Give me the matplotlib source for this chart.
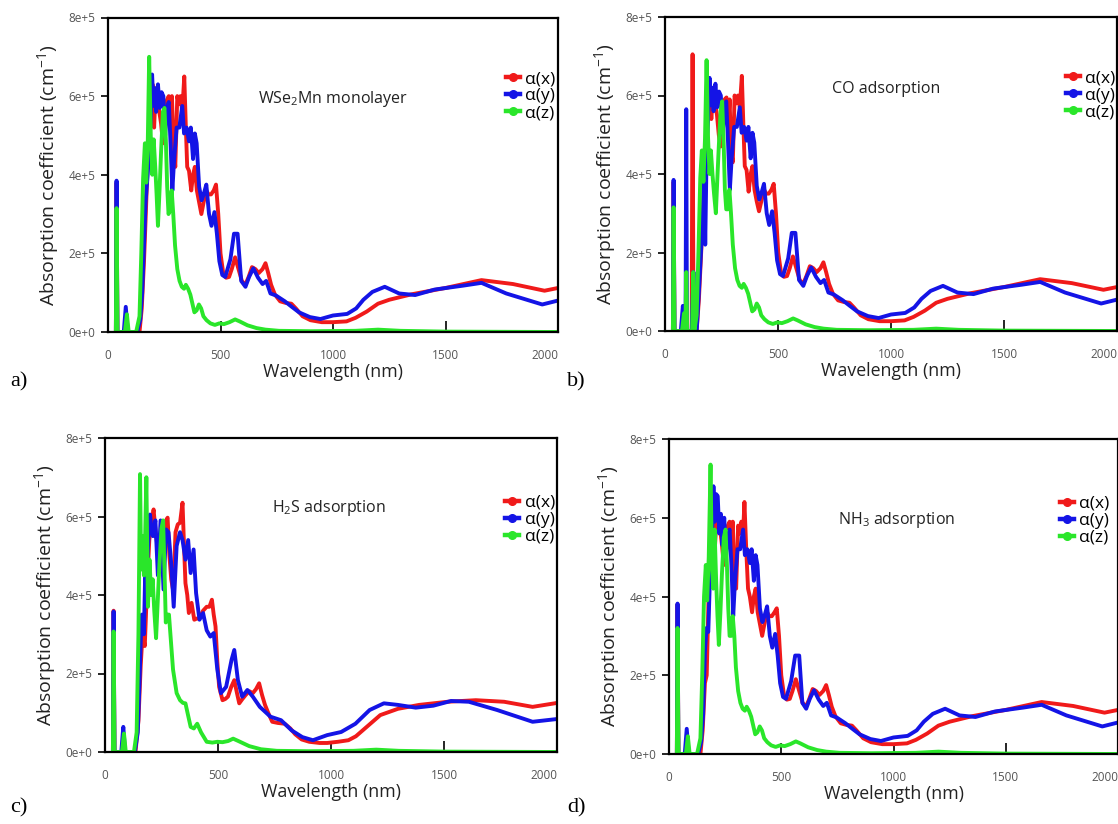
import numpy as np
import matplotlib
matplotlib.use("Agg")
import matplotlib.pyplot as plt
from matplotlib.lines import Line2D
from matplotlib.ticker import FuncFormatter

plt.rcParams['font.family'] = ['Open Sans', 'DejaVu Sans']
plt.rcParams['mathtext.fontset'] = 'custom'
plt.rcParams['mathtext.rm'] = 'Open Sans'

# datos: (longitud de onda nm, alfa en unidades de 1e5 cm^-1)
a_red = [(35,0),(38,3.8),(42,0),(140,0),(150,0.6),(160,1.8),(168,3.0),(178,4.6),(190,5.8),(198,6.3),(205,5.2),
         (212,6.2),(220,5.9),(228,5.6),(236,5.3),(244,4.8),(252,5.0),(262,5.9),(270,6.0),(277,5.2),(284,6.0),
         (291,4.8),(299,4.2),(308,6.0),(315,5.8),(322,6.0),(330,5.6),(339,6.5),(346,5.2),(352,4.2),(360,4.1),
         (370,3.6),(378,4.0),(386,4.2),(395,3.6),(405,3.3),(415,3.0),(425,3.3),(437,3.6),(447,3.5),(458,3.5),
         (470,3.6),(480,3.75),(490,3.0),(500,2.0),(512,1.5),(525,1.38),(538,1.4),(550,1.6),(565,1.9),(580,1.6),
         (595,1.3),(610,1.2),(625,1.4),(640,1.65),(655,1.6),(670,1.5),(687,1.6),(700,1.75),(712,1.5),(725,1.2),
         (742,0.95),(765,0.78),(790,0.74),(815,0.72),(835,0.6),(865,0.4),(900,0.3),(950,0.25),(1000,0.25),
         (1060,0.27),(1100,0.36),(1150,0.52),(1200,0.72),(1250,0.82),(1350,0.96),(1500,1.12),(1660,1.32),
         (1800,1.22),(1940,1.05),(2000,1.12)]
a_blue = [(35,0),(38,3.85),(42,0),(70,0),(79,0.64),(88,0),(130,0),(143,0.3),(152,1.0),(160,2.2),(167,3.3),
          (175,3.9),(183,4.6),(190,5.5),(196,6.55),(202,5.75),(208,6.2),(214,5.6),(222,6.3),(230,5.7),(238,6.1),
          (246,6.0),(254,5.0),(262,5.7),(270,5.85),(278,4.8),(286,3.6),(294,4.4),(305,5.2),(317,5.2),(330,5.75),
          (338,5.05),(349,5.2),(360,4.85),(368,5.2),(378,4.4),(386,5.05),(394,4.8),(405,3.7),(416,3.35),(425,3.5),
          (437,3.75),(449,3.0),(460,2.7),(473,3.05),(484,2.5),(495,1.8),(508,1.45),(521,1.4),(544,1.85),(560,2.5),
          (576,2.5),(592,1.3),(611,1.15),(627,1.4),(646,1.62),(667,1.38),(687,1.22),(703,1.3),(722,0.98),
          (746,0.93),(786,0.78),(817,0.64),(849,0.5),(897,0.38),(944,0.33),(1000,0.42),(1063,0.46),(1103,0.6),
          (1135,0.82),(1175,1.02),(1230,1.15),(1294,0.98),(1365,0.94),(1452,1.08),(1579,1.18),(1660,1.25),
          (1770,0.98),(1930,0.7),(2000,0.8)]
a_green = [(35,0),(38,3.15),(42,0),(75,0),(84,0.45),(92,0),(125,0),(140,0.4),(148,2.0),(156,3.9),(164,4.8),
           (170,3.8),(177,4.9),(183,7.0),(190,5.0),(197,4.0),(203,4.9),(210,4.2),(216,3.5),(222,2.7),(229,3.6),
           (236,4.6),(244,5.6),(251,5.7),(257,4.9),(263,3.7),(269,3.0),(276,3.1),(283,3.6),(290,3.0),(298,2.2),
           (308,1.6),(318,1.3),(328,1.15),(338,1.1),(346,1.2),(356,1.1),(366,0.95),(374,0.75),(384,0.5),
           (394,0.55),(404,0.7),(414,0.6),(424,0.4),(438,0.3),(455,0.22),(475,0.18),(495,0.22),(515,0.2),
           (540,0.25),(565,0.32),(585,0.27),(620,0.17),(660,0.1),(700,0.06),(760,0.03),(900,0.02),(1100,0.03),
           (1200,0.06),(1300,0.03),(1500,0.01),(2000,0.0)]

b_red = [(35,0),(38,3.8),(42,0),(118,0),(122,7.05),(126,0),(140,0),(150,0.8),(160,2.0),(168,3.0),(178,4.6),
         (190,5.7),(198,6.0),(205,5.4),(214,6.15),(222,5.8),(230,5.5),(238,5.0),(246,4.7),(254,5.2),(264,5.9),
         (272,5.95),(279,5.2),(286,5.9),(292,4.6),(300,4.3),(308,6.0),(316,5.8),(323,6.0),(331,5.7),(340,6.5),
         (347,5.2),(353,4.2),(361,4.1),(370,3.55),(379,4.0),(387,4.2),(396,3.6),(406,3.3),(416,3.05),(426,3.3),
         (438,3.6),(448,3.5),(459,3.5),(471,3.6),(481,3.75),(491,3.0),(501,2.0),(513,1.5),(526,1.38),(540,1.4),
         (552,1.6),(566,1.9),(581,1.6),(596,1.3),(611,1.2),(626,1.4),(641,1.65),(656,1.6),(671,1.5),(688,1.6),
         (701,1.75),(713,1.5),(726,1.2),(743,0.95),(766,0.78),(791,0.74),(816,0.72),(836,0.6),(866,0.4),
         (900,0.3),(950,0.25),(1000,0.25),(1060,0.27),(1100,0.36),(1150,0.52),(1200,0.72),(1250,0.82),
         (1350,0.96),(1500,1.12),(1660,1.32),(1800,1.22),(1940,1.05),(2000,1.12)]
b_blue = [(35,0),(38,3.85),(42,0),(70,0),(79,0.64),(86,0),(91,0),(94,5.65),(97,0),(118,0),(126,1.5),(130,0),
          (140,0),(150,1.0),(160,2.1),(168,3.0),(173,4.3),(178,2.2),(184,4.5),(190,5.3),(197,6.45),(203,5.75),
          (209,6.2),(215,5.6),(223,6.3),(231,5.7),(239,6.1),(247,6.0),(255,5.0),(263,5.7),(271,5.85),(279,4.8),
          (287,3.6),(295,4.4),(306,5.2),(318,5.2),(331,5.7),(339,5.05),(350,5.2),(361,4.85),(369,5.2),(379,4.4),
          (387,5.05),(395,4.8),(406,3.7),(417,3.35),(426,3.5),(438,3.75),(450,3.0),(461,2.7),(474,3.05),(485,2.5),
          (496,1.8),(509,1.45),(522,1.4),(545,1.85),(561,2.5),(577,2.5),(593,1.3),(612,1.15),(628,1.4),(647,1.62),
          (668,1.38),(688,1.22),(704,1.3),(723,0.98),(747,0.93),(787,0.78),(818,0.64),(850,0.5),(898,0.38),
          (945,0.33),(1000,0.42),(1063,0.46),(1103,0.6),(1135,0.82),(1175,1.02),(1230,1.15),(1294,0.98),
          (1365,0.94),(1452,1.08),(1579,1.18),(1660,1.25),(1770,0.98),(1930,0.7),(2000,0.8)]
b_green = [(35,0),(38,3.15),(42,0),(75,0),(84,0.45),(90,0),(94,1.5),(98,0),(120,0),(125,1.5),(130,0),(140,0.4),
           (148,2.0),(156,3.9),(163,4.6),(170,3.8),(177,4.9),(184,6.9),(190,5.0),(197,4.0),(203,4.6),(210,4.0),
           (217,3.5),(225,3.0),(231,3.8),(238,4.7),(246,5.6),(253,5.85),(259,4.9),(265,3.6),(271,3.1),(278,3.1),
           (285,3.6),(292,3.0),(300,2.2),(310,1.6),(320,1.3),(330,1.15),(340,1.1),(348,1.2),(358,1.1),(368,0.95),
           (376,0.75),(386,0.5),(396,0.55),(406,0.7),(416,0.6),(426,0.4),(440,0.3),(457,0.22),(477,0.18),
           (497,0.22),(517,0.2),(542,0.25),(567,0.32),(587,0.27),(622,0.17),(662,0.1),(702,0.06),(760,0.03),
           (900,0.02),(1100,0.03),(1200,0.06),(1300,0.03),(1500,0.01),(2000,0.0)]

c_red = [(35,0),(38,3.6),(42,0),(135,0),(148,0.8),(158,2.2),(166,3.0),(176,2.7),(186,4.2),(196,5.4),(205,5.8),
         (215,6.18),(224,5.6),(233,5.2),(242,4.8),(252,5.1),(262,5.7),(270,5.9),(277,5.97),(285,5.0),(293,4.4),
         (302,4.1),(312,5.6),(322,5.8),(332,5.84),(343,6.35),(350,5.2),(356,4.3),(364,4.0),(371,3.54),(383,3.8),
         (395,3.37),(406,3.4),(418,3.4),(434,3.6),(450,3.7),(462,3.7),(473,3.88),(481,3.5),(489,3.2),(497,2.3),
         (505,1.66),(520,1.32),(532,1.35),(544,1.41),(558,1.65),(572,1.83),(584,1.5),(594,1.24),(608,1.35),
         (622,1.45),(638,1.55),(654,1.5),(668,1.6),(682,1.75),(695,1.45),(708,1.2),(722,1.0),(740,0.77),
         (765,0.74),(795,0.72),(820,0.6),(842,0.45),(870,0.32),(904,0.26),(950,0.23),(983,0.23),(1030,0.26),
         (1077,0.3),(1110,0.4),(1140,0.55),(1180,0.75),(1218,0.94),(1296,1.1),(1390,1.2),(1516,1.28),
         (1641,1.32),(1766,1.28),(1892,1.15),(2000,1.25)]
c_blue = [(35,0),(38,3.58),(42,0),(72,0),(81,0.64),(89,0),(132,0),(145,0.5),(152,1.66),(158,2.8),(163,3.5),
          (172,3.0),(178,4.6),(183,4.1),(190,5.2),(199,6.05),(206,5.7),(212,5.5),(223,5.9),(234,4.5),(246,5.9),
          (259,4.14),(270,5.67),(281,5.6),(293,4.8),(304,3.7),(317,5.25),(332,5.6),(343,5.4),(356,4.9),(368,5.4),
          (379,4.56),(392,5.16),(403,4.05),(418,3.37),(434,3.54),(450,3.1),(466,2.94),(481,3.03),(497,2.1),
          (513,1.5),(536,1.66),(560,2.35),(572,2.6),(588,1.83),(607,1.41),(630,1.58),(654,1.41),(685,1.15),
          (732,0.9),(779,0.81),(826,0.55),(873,0.38),(920,0.3),(983,0.43),(1045,0.51),(1108,0.72),(1171,1.07),
          (1234,1.24),(1296,1.2),(1375,1.13),(1453,1.18),(1531,1.3),(1610,1.28),(1735,1.07),(1892,0.77),
          (2000,0.84)]
c_green = [(35,0),(38,3.07),(42,0),(75,0),(84,0.47),(92,0),(128,0),(140,0.5),(148,3.0),(155,7.08),(160,4.65),
           (166,5.5),(172,4.5),(178,5.6),(183,7.0),(190,3.7),(197,4.9),(204,4.0),(211,4.4),(218,3.6),(226,2.9),
           (233,3.8),(241,4.8),(250,5.7),(257,5.9),(263,4.7),(269,3.3),(276,3.5),(283,3.5),(292,2.8),(301,2.1),
           (317,1.5),(332,1.32),(345,1.25),(356,1.24),(367,0.95),(379,0.64),(393,0.6),(408,0.72),(425,0.5),
           (450,0.26),(475,0.24),(497,0.26),(520,0.25),(545,0.28),(567,0.34),(590,0.28),(638,0.15),(690,0.07),
           (760,0.03),(900,0.02),(1100,0.03),(1200,0.06),(1300,0.03),(1500,0.01),(2000,0.0)]

d_red = [(35,0),(38,3.8),(42,0),(140,0),(150,0.6),(160,1.8),(168,2.0),(178,4.4),(190,5.6),(198,6.2),(205,5.3),
         (212,6.0),(220,5.8),(228,5.7),(236,5.3),(244,4.8),(252,5.0),(262,5.8),(270,5.9),(277,5.2),(284,5.9),
         (291,4.6),(299,4.2),(308,5.8),(315,5.6),(322,5.9),(330,5.6),(336,6.4),(344,5.2),(352,4.2),(360,4.0),
         (370,3.6),(378,4.0),(386,4.2),(395,3.6),(405,3.3),(415,3.0),(425,3.3),(437,3.6),(447,3.5),(458,3.5),
         (470,3.6),(480,3.7),(490,3.0),(500,2.0),(512,1.5),(525,1.38),(538,1.4),(550,1.6),(565,1.9),(580,1.6),
         (595,1.3),(610,1.2),(625,1.4),(640,1.65),(655,1.6),(670,1.5),(687,1.6),(700,1.75),(712,1.5),(725,1.2),
         (742,0.95),(765,0.78),(790,0.74),(815,0.72),(835,0.6),(865,0.4),(900,0.3),(950,0.25),(1000,0.25),
         (1060,0.27),(1100,0.36),(1150,0.52),(1200,0.72),(1250,0.82),(1350,0.96),(1500,1.12),(1660,1.32),
         (1800,1.22),(1940,1.05),(2000,1.12)]
d_blue = [(35,0),(38,3.82),(42,0),(70,0),(79,0.64),(88,0),(130,0),(143,0.3),(152,1.0),(160,2.6),(167,3.2),
          (175,3.1),(183,4.6),(190,5.2),(198,6.8),(204,5.9),(210,6.6),(217,6.55),(224,5.6),(231,6.1),(238,5.3),
          (246,6.0),(254,5.0),(262,5.6),(270,5.7),(278,4.8),(286,3.5),(294,4.4),(305,5.2),(317,5.2),(330,5.7),
          (338,5.05),(349,5.2),(360,4.85),(368,5.2),(378,4.4),(386,5.05),(394,4.8),(405,3.7),(416,3.35),(425,3.5),
          (437,3.75),(449,3.0),(460,2.7),(473,3.05),(484,2.5),(495,1.8),(508,1.45),(521,1.4),(544,1.85),(562,2.5),
          (580,2.5),(594,1.3),(611,1.15),(627,1.4),(646,1.62),(667,1.38),(687,1.22),(703,1.3),(722,0.98),
          (746,0.93),(786,0.78),(817,0.64),(849,0.5),(897,0.38),(944,0.33),(1000,0.42),(1063,0.46),(1103,0.6),
          (1135,0.82),(1175,1.02),(1230,1.15),(1294,0.98),(1365,0.94),(1452,1.08),(1579,1.18),(1660,1.25),
          (1770,0.98),(1930,0.7),(2000,0.8)]
d_green = [(35,0),(38,3.2),(42,0),(75,0),(84,0.45),(92,0),(125,0),(140,0.4),(148,2.0),(156,4.0),(164,4.8),
           (170,3.9),(177,5.0),(185,7.35),(191,4.8),(197,4.2),(203,5.7),(210,4.4),(216,3.5),(222,2.77),(229,3.6),
           (236,4.6),(244,5.5),(252,5.7),(258,4.8),(264,3.7),(270,3.0),(277,3.0),(284,3.5),(291,3.0),(298,2.2),
           (308,1.6),(318,1.3),(328,1.15),(338,1.1),(346,1.2),(356,1.1),(366,0.95),(374,0.75),(384,0.5),
           (394,0.55),(404,0.7),(414,0.6),(424,0.4),(438,0.3),(455,0.22),(475,0.18),(495,0.22),(515,0.2),
           (540,0.25),(565,0.32),(585,0.27),(620,0.17),(660,0.1),(700,0.06),(760,0.03),(900,0.02),(1100,0.03),
           (1200,0.06),(1300,0.03),(1500,0.01),(2000,0.0)]

panel_titles = ['WSe$_2$Mn monolayer', 'CO adsorption', 'H$_2$S adsorption', 'NH$_3$ adsorption']
panel_letters = ['a)', 'b)', 'c)', 'd)']
series_labels = ['α(x)', 'α(y)', 'α(z)']
x_ticks = [0, 500, 1000, 1500, 2000]
y_ticks = [0, 2, 4, 6, 8]

datos = [(a_red, a_blue, a_green), (b_red, b_blue, b_green), (c_red, c_blue, c_green), (d_red, d_blue, d_green)]
colores = ['#f01a1a', '#1414e6', '#2ae62a']

# posiciones de los ejes en pixeles (izq, arriba, ancho, alto) sobre 1118x824
cajas = [(108, 17.5, 450, 314.5), (665, 17, 452, 314), (105, 438, 452, 314), (669, 439, 449, 315)]
textos_pos = [(0.50, 0.74), (0.49, 0.77), (0.495, 0.776), (0.507, 0.744)]
leyenda_pos = [(0.884, 0.83), (0.888, 0.83), (0.886, 0.82), (0.870, 0.82)]
letras_pos = [(10, 382), (567, 382), (10, 808), (567, 808)]

W, H = 1118, 824
fig = plt.figure(figsize=(W / 100, H / 100), dpi=100)

fmt = FuncFormatter(lambda v, p: '0e+0' if v == 0 else '%de+5' % v)

for i in range(4):
    l, t, w, h = cajas[i]
    ax = fig.add_axes([l / W, 1 - (t + h) / H, w / W, h / H])
    for serie, col in zip(datos[i], colores):
        arr = np.array(serie, dtype=float)
        ax.plot(arr[:, 0], arr[:, 1], color=col, lw=2.8, solid_joinstyle='round')
    ax.set_xlim(0, 2000)
    ax.set_ylim(0, 8)
    ax.set_xticks(x_ticks)
    ax.set_yticks(y_ticks)
    ax.yaxis.set_major_formatter(fmt)
    ax.tick_params(axis='x', direction='in', length=8, width=1.2, pad=12, labelsize=8.5, labelcolor='#555555')
    ax.tick_params(axis='y', direction='out', length=5, width=1.2, pad=4, labelsize=8.5, labelcolor='#555555')
    for s in ax.spines.values():
        s.set_linewidth(1.6)
    ax.set_xlabel('Wavelength (nm)', fontsize=12.8, color='#222222', labelpad=1)
    ax.set_ylabel('Absorption coefficient (cm$^{-1}$)', fontsize=14, color='#222222', labelpad=5)
    ax.text(textos_pos[i][0], textos_pos[i][1], panel_titles[i], transform=ax.transAxes,
            ha='center', va='center', fontsize=11.5, color='#222222')
    handles = [Line2D([], [], color=c, lw=3.2, marker='o', ms=5.5) for c in colores]
    ax.legend(handles, series_labels, loc='upper left', bbox_to_anchor=leyenda_pos[i], frameon=False,
              fontsize=12.5, handlelength=0.8, handletextpad=0.3, labelspacing=0.05, borderpad=0, borderaxespad=0)
    etiquetas = ax.get_xticklabels()
    etiquetas[-1].set_horizontalalignment('right')
    fig.text(letras_pos[i][0] / W, 1 - letras_pos[i][1] / H, panel_letters[i], fontsize=16,
             family='Liberation Serif', va='center', ha='left')

plt.savefig('out.png', dpi=100)
